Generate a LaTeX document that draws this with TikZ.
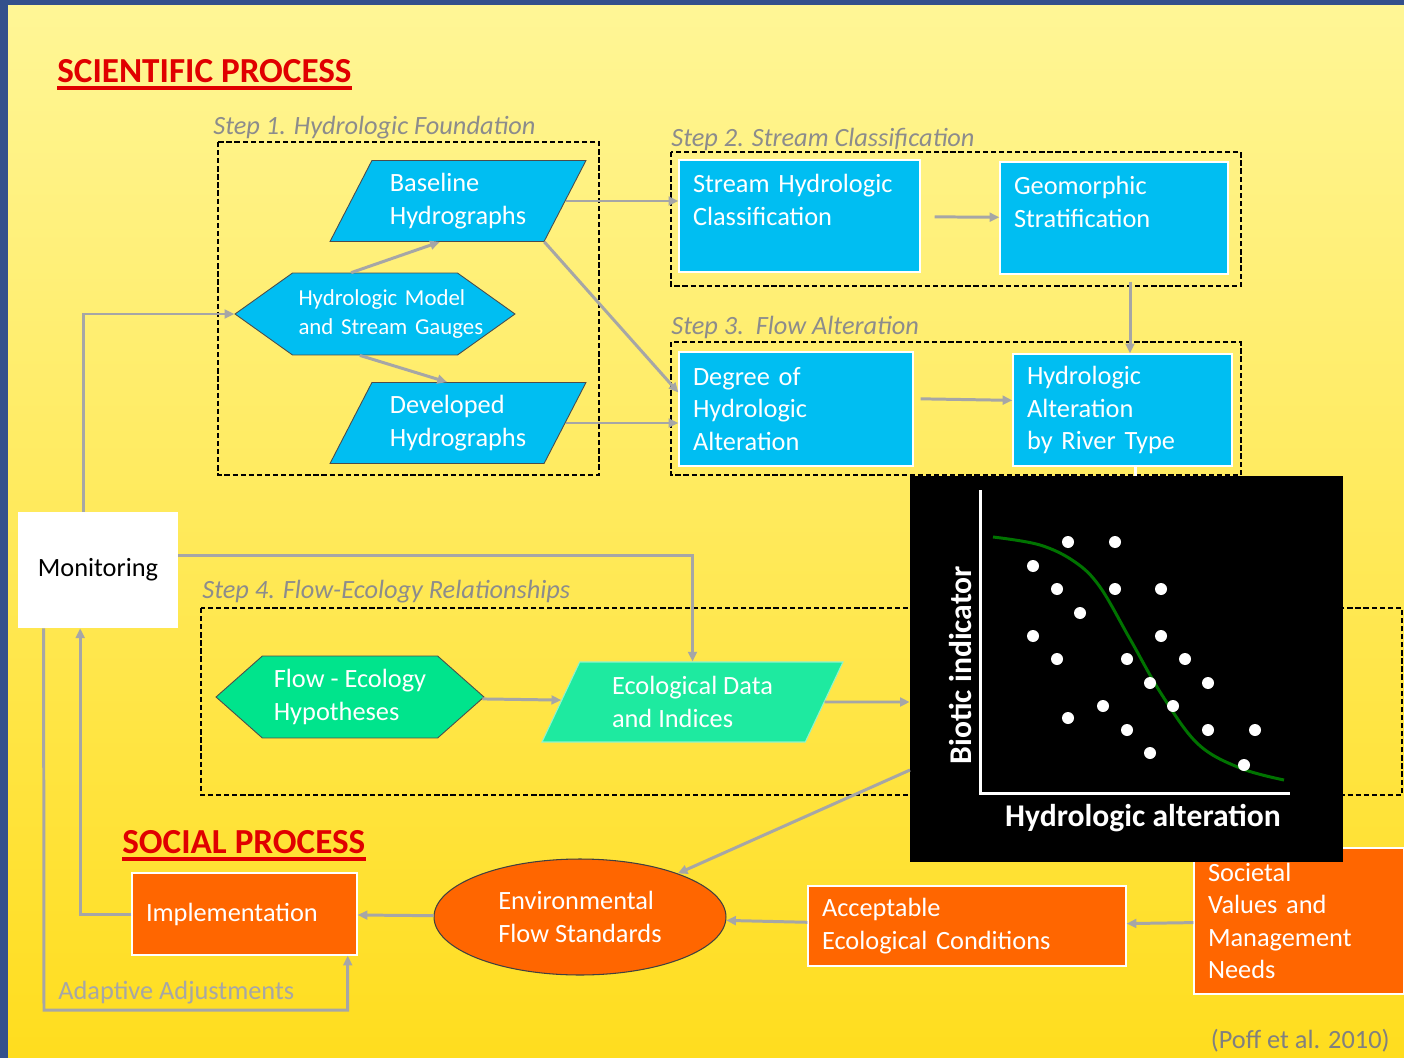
\documentclass[tikz,border=0pt]{standalone}
\usepackage{fontspec}
\setmainfont{Carlito}
\usetikzlibrary{shapes.geometric,shapes.symbols,arrows.meta,calc}

\definecolor{slideblue}{RGB}{52,80,140}
\definecolor{slidetop}{RGB}{255,246,150}
\definecolor{slidebottom}{RGB}{255,221,30}
\definecolor{hydroblue}{RGB}{0,190,242}
\definecolor{ecogreen}{RGB}{0,228,140}
\definecolor{ecomint}{RGB}{30,234,160}
\definecolor{socorange}{RGB}{255,102,0}
\definecolor{linkgray}{RGB}{166,166,166}
\definecolor{steptext}{RGB}{140,140,140}
\definecolor{titlered}{RGB}{224,0,0}
\definecolor{curvegreen}{RGB}{0,115,0}

\tikzset{
  txt/.style={font=\fontsize{15}{18.5}\selectfont},
  link/.style={draw=linkgray, line width=1.7pt, -{Triangle[length=5.5pt,width=5pt]}},
  stepframe/.style={draw=black, line width=0.6pt, dash pattern=on 3pt off 1.6pt},
  steplabel/.style={anchor=base west, inner sep=0pt, text=steptext,
    font=\fontsize{15}{18}\selectfont\itshape},
  title/.style={anchor=base west, inner sep=0pt, text=titlered,
    font=\fontsize{20}{24}\selectfont\bfseries},
  sciblock/.style={rectangle, fill=hydroblue, draw=white, line width=0.8pt,
    text=white, align=left, inner xsep=0.28cm, txt},
  socblock/.style={rectangle, fill=socorange, draw=white, line width=0.8pt,
    text=white, align=left, inner xsep=0.28cm, txt},
  hydrogram/.style={trapezium, trapezium left angle=58, trapezium right angle=122,
    trapezium stretches body, fill=hydroblue, draw=black!70, line width=0.5pt,
    text=white, align=left, minimum width=5.12cm, minimum height=1.62cm, txt},
  hexbox/.style={signal, signal to=east and west, draw=black!70, line width=0.5pt,
    text=white, align=left},
  plotlabel/.style={text=white, inner sep=0pt, font=\fontsize{18}{20}\selectfont\bfseries}
}

\begin{document}
\begin{tikzpicture}[x=0.02cm,y=-0.02cm]
  \useasboundingbox (0,0) rectangle (1404,1058);
  % slide background
  \fill[slideblue] (0,0) rectangle (1404,1058);
  \shade[top color=slidetop, bottom color=slidebottom] (8,5) rectangle (1404,1058);

  % titles
  \node[title] (scititle) at (57,82) {SCIENTIFIC PROCESS};
  \draw[titlered, line width=1.8pt] ($(scititle.base west)+(0,6)$) -- ($(scititle.base east)+(0,6)$);
  \node[title] (soctitle) at (122,853) {SOCIAL PROCESS};
  \draw[titlered, line width=1.8pt] ($(soctitle.base west)+(0,6)$) -- ($(soctitle.base east)+(0,6)$);

  % step frames
  \draw[stepframe] (218,142) rectangle (599,475);
  \node[steplabel] (s1lbl) at (213,134) {Step 1. Hydrologic Foundation};
  \draw[stepframe] (671,152) rectangle (1241,286);
  \node[steplabel] (s2lbl) at (671,146) {Step 2. Stream Classification};
  \draw[stepframe] (671,342) rectangle (1241,475);
  \node[steplabel] (s3lbl) at (671,334) {Step 3.\ \ Flow Alteration};
  \draw[stepframe] (201,608) rectangle (1402,795);
  \node[steplabel] (s4lbl) at (202,598) {Step 4. Flow-Ecology Relationships};

  % step 1
  \node[hydrogram] (basehyd) at (458,201) {Baseline\\Hydrographs};
  \node[hexbox, fill=hydroblue, minimum width=5.6cm, minimum height=1.64cm,
    signal pointer angle=71, text width=3.06cm, font=\fontsize{13}{16}\selectfont]
    (hmodel) at (375,314) {\mbox{Hydrologic Model}\\\mbox{and Stream Gauges}};
  \node[hydrogram] (devhyd) at (458,423) {Developed\\Hydrographs};

  % steps 2 and 3
  \node[sciblock, minimum width=4.82cm, minimum height=2.24cm, text width=4.26cm]
    (streamcls) at (799.5,216) {Stream Hydrologic\\Classification\\\mbox{}};
  \node[sciblock, minimum width=4.56cm, minimum height=2.24cm, text width=4cm]
    (geostrat) at (1114,218) {Geomorphic\\Stratification\\\mbox{}};
  \node[sciblock, minimum width=4.68cm, minimum height=2.28cm, text width=4.12cm]
    (degalt) at (796,409) {Degree of\\Hydrologic\\Alteration};
  \node[sciblock, minimum width=4.38cm, minimum height=2.24cm, text width=3.82cm]
    (altriver) at (1122.5,410) {Hydrologic\\Alteration\\by River Type};

  % step 4
  \node[hexbox, fill=ecogreen, minimum width=5.36cm, minimum height=1.64cm,
    signal pointer angle=83, txt] (ecohyp) at (350,697) {Flow - Ecology\\Hypotheses};
  \node[trapezium, trapezium left angle=59, trapezium right angle=121,
    trapezium stretches body, fill=ecomint, draw=white!50!ecomint, line width=0.6pt,
    minimum width=6.02cm, minimum height=1.6cm, text=white, align=left, txt]
    (ecodata) at (692.5,702) {Ecological Data\\and Indices};

  % monitoring and social process
  \node[fill=white, minimum width=3.2cm, minimum height=2.32cm, txt] (monitor) at (98,570) {Monitoring};
  \node[socblock, minimum width=4.5cm, minimum height=1.64cm, text width=3.94cm]
    (impl) at (244.5,914) {Implementation};
  \node[ellipse, fill=socorange, draw=black!75, line width=0.6pt, minimum width=5.84cm,
    minimum height=2.32cm, text=white, align=left, txt] (envstd) at (580,917)
    {Environmental\\Flow Standards};
  \node[socblock, minimum width=6.36cm, minimum height=1.6cm, text width=5.8cm]
    (accept) at (967,926) {Acceptable\\Ecological Conditions};
  \node[socblock, minimum width=4.2cm, minimum height=2.92cm, text width=3.64cm]
    (societal) at (1299,921) {Societal\\Values and\\Management\\Needs};

  % connectors
  \draw[link] (hmodel.120) -- (basehyd.246);
  \draw[link] (hmodel.250) -- (devhyd.105);
  \draw[link] (basehyd.east) -- (streamcls.west |- basehyd.east);
  \draw[link] (basehyd.bottom right corner) -- (degalt.172);
  \draw[link] (devhyd.east) -- (degalt.west |- devhyd.east);
  \draw[link, shorten <=8pt] (streamcls) -- (geostrat);
  \coordinate (gsdrop) at ($(geostrat.south)+(16,0)$);
  \draw[link, shorten <=4pt] (gsdrop) -- (gsdrop |- altriver.north);
  \draw[link, shorten <=4pt] (degalt.5) -- (altriver.175);
  \draw[link] (monitor.104) |- (hmodel.west);
  \draw[link] (monitor.10) -| (ecodata.north);
  \draw[link] (ecohyp) -- (ecodata);
  \coordinate (adjcorner) at (44,1010);
  \draw[link] (monitor.227) -- (adjcorner) -| (impl.-22);
  \node[anchor=base west, inner sep=0pt, text=linkgray, txt] (adjlbl) at (58,999) {Adaptive Adjustments};
  \draw[link] (impl.west) -| (monitor.253);
  \draw[link] (envstd) -- (impl);
  \draw[link] (accept) -- (envstd);
  \draw[link] (societal) -- (accept);

  % flow-ecology curve
  \node[fill=black, minimum width=8.66cm, minimum height=7.72cm, inner sep=0pt] (scatter) at (1126.5,669) {};
  \coordinate (ardrop) at ($(altriver.south)+(13,0)$);
  \draw[white, line width=1.6pt] (ardrop) -- (ardrop |- scatter.north);
  \draw[link] (ecodata) -- (scatter.west |- ecodata);
  \coordinate (plotout) at (910,770);
  \draw[link] (plotout) -- (envstd);
  \draw[white, line width=1.7pt] (980,490) -- (980,793) -- (1290,793);
  \draw[curvegreen, line width=1.7pt] plot[smooth, tension=0.6] coordinates
    {(993,537) (1040,545) (1075,562) (1100,587) (1130,639) (1162,695) (1198,744) (1240,768) (1284,780)};
  \foreach \px/\py in {1068/542, 1115/542, 1033/566, 1057/589, 1115/589, 1161/589,
      1080/613, 1033/636, 1161/636, 1057/659, 1127/659, 1185/659, 1150/683, 1208/683,
      1103/706, 1173/706, 1068/718, 1127/730, 1208/730, 1255/730, 1150/753, 1244/765}
    \fill[white] (\px,\py) circle (0.12cm);
  \node[plotlabel, rotate=90] (ylbl) at (960,665) {Biotic indicator};
  \node[plotlabel] (xlbl) at (1143,818) {Hydrologic alteration};

  \node[anchor=base east, inner sep=0pt, text=black!50, txt] (source) at (1390,1048) {(Poff et al. 2010)};
\end{tikzpicture}
\end{document}
